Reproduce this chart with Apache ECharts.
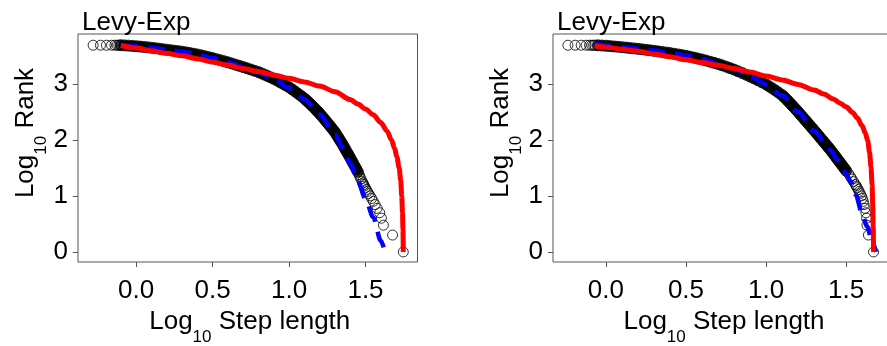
<!DOCTYPE html>
<html>
<head>
<meta charset="utf-8">
<script src="https://cdn.jsdelivr.net/npm/echarts@6/dist/echarts.min.js"></script>
<style>
html,body{margin:0;padding:0;background:#fff;}
#chart{width:887px;height:346px;}
</style>
</head>
<body>
<div id="chart"></div>
<script>
// ---------- DATA ----------
const panelTitles = ['Levy-Exp', 'Levy-Exp'];
const xTickValues = [0, 0.5, 1, 1.5];
const yTickValues = [0, 1, 2, 3];

// Left panel: observed points (dense part of the rank curve)
const leftBandX = [-0.100,-0.075,-0.050,-0.025,0.000,0.025,0.050,0.075,0.100,0.125,0.150,0.175,0.200,0.225,0.250,0.275,0.300,0.325,0.350,0.375,0.400,0.425,0.450,0.475,0.500,0.525,0.550,0.575,0.600,0.625,0.650,0.675,0.700,0.725,0.750,0.775,0.800,
  0.820,0.840,0.860,0.880,0.900,0.920,0.940,0.960,0.980,1.000,1.020,1.040,1.060,1.080,1.100,
  1.110,1.120,1.130,1.140,1.150,1.160,1.170,1.180,1.190,1.200,1.210,1.220,1.230,1.240,1.250,1.260,1.270,1.280,1.290,1.300,1.310,1.320,1.330,1.340,1.350,1.360,1.370,1.380,1.390,1.400,1.410,1.420,1.430,1.440,1.450];
const leftBandY = [3.690,3.686,3.682,3.677,3.672,3.666,3.659,3.652,3.645,3.637,3.628,3.619,3.610,3.601,3.592,3.584,3.575,3.563,3.551,3.538,3.525,3.509,3.493,3.477,3.460,3.441,3.423,3.404,3.385,3.364,3.343,3.322,3.300,3.278,3.256,3.233,3.210,
  3.187,3.164,3.140,3.115,3.090,3.062,3.032,3.002,2.971,2.940,2.902,2.863,2.823,2.782,2.740,
  2.715,2.690,2.664,2.638,2.611,2.584,2.556,2.528,2.499,2.470,2.438,2.406,2.374,2.341,2.308,2.275,2.242,2.208,2.174,2.140,2.096,2.052,2.008,1.964,1.920,1.872,1.824,1.776,1.728,1.680,1.630,1.580,1.530,1.480,1.430];
// Left panel: isolated points (smallest steps at top, largest steps in tail)
const leftSparseX = [-0.281,-0.233,-0.194,-0.161,-0.139,-0.124,-0.113,
  1.458,1.464,1.470,1.478,1.483,1.488,1.493,1.499,1.505,1.512,1.520,1.530,1.540,1.551,1.563,1.576,1.593,1.604,1.617,1.677,1.747];
const leftSparseY = [3.69,3.69,3.69,3.69,3.69,3.69,3.69,
  1.380,1.342,1.301,1.255,1.230,1.204,1.176,1.146,1.114,1.079,1.041,1.000,0.954,0.903,0.845,0.778,0.699,0.602,0.477,0.301,0.000];
// Left panel: fitted curves
const leftBlueX = [-0.10,0.0,0.1,0.2,0.3,0.4,0.5,0.6,0.7,0.8,0.9,1.0,1.1,1.2,1.3,1.35,1.4,1.45,1.5,1.55,1.6,1.627];
const leftBlueY = [3.70,3.675,3.645,3.61,3.575,3.525,3.46,3.385,3.30,3.205,3.08,2.925,2.725,2.455,2.10,1.86,1.58,1.26,0.95,0.62,0.20,0.0];
const leftRedX = [-0.10,0.0,0.1,0.2,0.3,0.4,0.5,0.6,0.7,0.8,0.9,1.0,1.1,1.2,1.3,1.4,1.45,1.5,1.55,1.6,1.64,1.67,1.69,1.705,1.72,1.73,1.737,1.742,1.745,1.747];
const leftRedY = [3.685,3.64,3.59,3.545,3.50,3.45,3.39,3.335,3.275,3.22,3.16,3.10,3.035,2.96,2.86,2.72,2.64,2.55,2.45,2.31,2.16,2.00,1.85,1.70,1.50,1.28,1.00,0.70,0.40,0.0];

// Right panel
const rightBandX = [-0.050,-0.025,0.000,0.025,0.050,0.075,0.100,0.125,0.150,0.175,0.200,0.225,0.250,0.275,0.300,0.325,0.350,0.375,0.400,0.425,0.450,0.475,0.500,0.525,0.550,0.575,0.600,0.625,0.650,0.675,0.700,0.725,0.750,0.775,0.800,0.825,0.850,0.875,0.900,0.925,0.950,0.975,1.000,
  1.020,1.040,1.060,1.080,1.100,
  1.110,1.120,1.130,1.140,1.150,1.160,1.170,1.180,1.190,1.200,1.210,1.220,1.230,1.240,1.250,1.260,1.270,1.280,1.290,1.300,1.310,1.320,1.330,1.340,1.350,1.360,1.370,1.380,1.390,1.400,1.410,1.420,1.430,1.440,1.450,1.460,1.470,1.480,1.490,1.500];
const rightBandY = [3.688,3.684,3.680,3.674,3.668,3.662,3.655,3.648,3.640,3.633,3.625,3.617,3.608,3.599,3.590,3.580,3.570,3.560,3.550,3.538,3.526,3.513,3.500,3.485,3.469,3.452,3.435,3.416,3.396,3.376,3.355,3.331,3.307,3.281,3.255,3.225,3.195,3.163,3.130,3.097,3.062,3.027,2.990,
  2.955,2.918,2.880,2.840,2.800,
  2.773,2.745,2.716,2.686,2.656,2.625,2.594,2.563,2.532,2.500,2.467,2.434,2.401,2.368,2.335,2.302,2.269,2.236,2.203,2.170,2.136,2.102,2.068,2.034,2.000,1.966,1.932,1.898,1.864,1.830,1.792,1.754,1.716,1.678,1.640,1.602,1.564,1.526,1.488,1.450];
const rightSparseX = [-0.237,-0.192,-0.154,-0.123,-0.102,-0.088,-0.077,-0.068,
  1.515,1.527,1.536,1.546,1.557,1.563,1.569,1.575,1.581,1.588,1.595,1.601,1.607,1.612,1.618,1.623,1.627,1.630,1.639,1.671];
const rightSparseY = [3.69,3.69,3.69,3.69,3.69,3.69,3.69,3.69,
  1.398,1.342,1.301,1.255,1.204,1.176,1.146,1.114,1.079,1.041,1.000,0.954,0.903,0.845,0.778,0.699,0.602,0.477,0.301,0.000];
const rightBlueX = [-0.07,0.0,0.1,0.2,0.3,0.4,0.5,0.6,0.7,0.8,0.9,1.0,1.1,1.2,1.3,1.4,1.45,1.5,1.53,1.56,1.6,1.63,1.66,1.685];
const rightBlueY = [3.71,3.69,3.66,3.63,3.595,3.555,3.505,3.44,3.36,3.26,3.135,2.99,2.79,2.50,2.16,1.82,1.63,1.40,1.25,1.02,0.68,0.46,0.22,0.0];
const rightRedX = [-0.07,0.0,0.1,0.2,0.3,0.4,0.5,0.6,0.7,0.8,0.9,1.0,1.1,1.2,1.3,1.36,1.42,1.46,1.5,1.54,1.57,1.6,1.62,1.635,1.646,1.655,1.662,1.666,1.669,1.671];
const rightRedY = [3.68,3.655,3.62,3.58,3.535,3.485,3.43,3.38,3.33,3.275,3.21,3.14,3.07,2.99,2.89,2.82,2.73,2.66,2.59,2.49,2.39,2.25,2.12,1.98,1.78,1.52,1.20,0.85,0.45,0.0];

// ---------- CHART ----------
const FONT = '"Liberation Sans", Arial, Helvetica, sans-serif';
const zip = (xs, ys) => xs.map((x, i) => [x, ys[i]]);

const panels = [
  {grid: {left: 78, top: 34, width: 339.5, height: 228}, xMin: -0.38, xMax: 1.84,
   band: zip(leftBandX, leftBandY), sparse: zip(leftSparseX, leftSparseY),
   blue: zip(leftBlueX, leftBlueY), red: zip(leftRedX, leftRedY), titleLeft: 77},
  {grid: {left: 553, top: 34, width: 338, height: 228}, xMin: -0.33, xMax: 1.78,
   band: zip(rightBandX, rightBandY), sparse: zip(rightSparseX, rightSparseY),
   blue: zip(rightBlueX, rightBlueY), red: zip(rightRedX, rightRedY), titleLeft: 552}
];

const nameRich = {
  a: {fontSize: 26, fontFamily: FONT, color: '#000', lineHeight: 30, verticalAlign: 'top'},
  b: {fontSize: 17, fontFamily: FONT, color: '#000', lineHeight: 17, verticalAlign: 'top', padding: [20, 0, 0, 0]}
};

const option = {
  animation: false,
  backgroundColor: '#fff',
  title: panels.map((p, i) => ({
    text: panelTitles[i], left: p.titleLeft, top: 5,
    textStyle: {fontSize: 26, fontWeight: 'normal', fontFamily: FONT, color: '#000', lineHeight: 26}
  })),
  grid: panels.map(p => Object.assign({show: true, borderColor: '#555', borderWidth: 1, backgroundColor: 'transparent',
    containLabel: false, outerBoundsMode: 'none'}, p.grid)),
  xAxis: panels.map((p, i) => ({
    type: 'value', gridIndex: i, min: p.xMin, max: p.xMax, position: 'bottom',
    axisLine: {show: false, onZero: false},
    splitLine: {show: false},
    axisTick: {show: true, length: 5, customValues: xTickValues, lineStyle: {color: '#555', width: 1}},
    axisLabel: {customValues: xTickValues, formatter: v => v.toFixed(1), fontSize: 26, fontFamily: FONT, color: '#000', margin: 16, lineHeight: 26},
    name: '{a|Log}{b|10}{a| Step length}', nameLocation: 'middle', nameGap: 47,
    nameTextStyle: {rich: nameRich, padding: [0, 0, 0, 4]}
  })),
  yAxis: panels.map((p, i) => ({
    type: 'value', gridIndex: i, min: -0.18, max: 3.89, position: 'left',
    axisLine: {show: false, onZero: false},
    splitLine: {show: false},
    axisTick: {show: true, length: 5, customValues: yTickValues, lineStyle: {color: '#555', width: 1}},
    axisLabel: {customValues: yTickValues, formatter: v => String(v), fontSize: 26, fontFamily: FONT, color: '#000', margin: 10},
    name: '{a|Log}{b|10}{a| Rank}', nameLocation: 'middle', nameGap: 32,
    nameTextStyle: {rich: nameRich, padding: [0, 0, 0, 30]}
  })),
  series: []
};

panels.forEach((p, i) => {
  option.series.push({
    type: 'scatter', xAxisIndex: i, yAxisIndex: i, data: p.band, symbol: 'circle', symbolSize: 11,
    itemStyle: {color: '#000', borderColor: '#000', borderWidth: 1}, silent: true
  });
  option.series.push({
    type: 'scatter', xAxisIndex: i, yAxisIndex: i, data: p.sparse, symbol: 'circle', symbolSize: 10,
    itemStyle: {color: 'rgba(0,0,0,0)', borderColor: '#000', borderWidth: 1}, silent: true
  });
  option.series.push({
    type: 'line', xAxisIndex: i, yAxisIndex: i, data: p.blue, showSymbol: false, symbol: 'none',
    smooth: 0.3, smoothMonotone: 'x', clip: false,
    lineStyle: {color: '#0000ff', width: 4.5, type: [17, 10], cap: 'butt'}, silent: true
  });
  option.series.push({
    type: 'line', xAxisIndex: i, yAxisIndex: i, data: p.red, showSymbol: false, symbol: 'none',
    smooth: 0.3, smoothMonotone: 'x', clip: false,
    lineStyle: {color: '#ff0000', width: 5}, silent: true
  });
});

const chart = echarts.init(document.getElementById('chart'), null, {renderer: 'canvas'});
chart.setOption(option);
</script>
</body>
</html>
